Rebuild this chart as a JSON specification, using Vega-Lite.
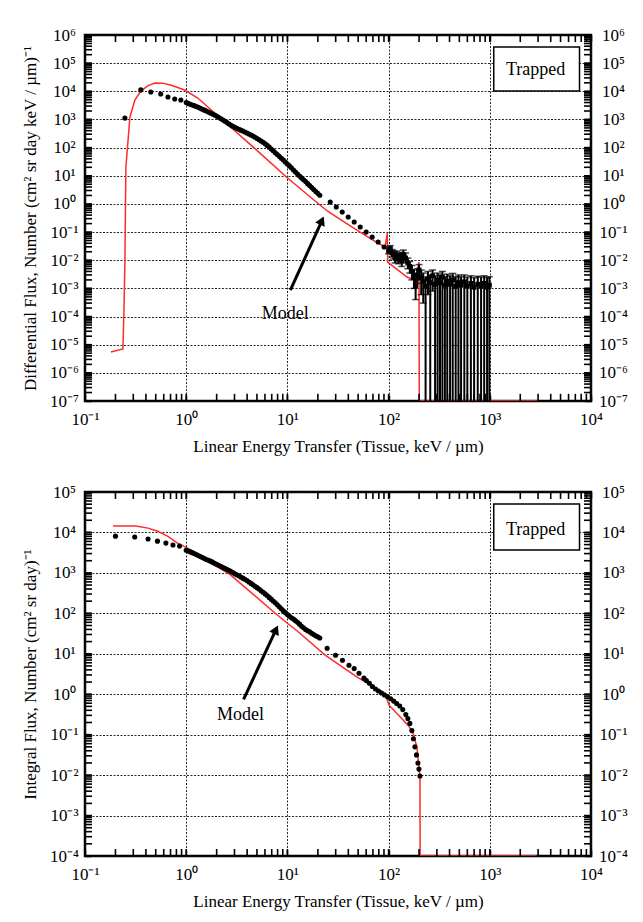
{
  "$schema": "https://vega.github.io/schema/vega-lite/v6.json",
  "background": "white",
  "padding": {"left": 20, "top": 24, "right": 5, "bottom": 5},
  "spacing": 25,
  "config": {
    "font": "Liberation Serif",
    "view": {"stroke": "black", "strokeWidth": 2.5},
    "axis": {
      "domain": false,
      "labelFont": "Liberation Serif",
      "titleFont": "Liberation Serif",
      "labelFontSize": 17,
      "titleFontSize": 17,
      "titleFontWeight": "normal",
      "labelColor": "black",
      "titleColor": "black",
      "tickColor": "black",
      "tickWidth": 1.5,
      "gridColor": "#111111",
      "gridDash": [2, 1.5],
      "gridWidth": 1,
      "labelFlush": false,
      "labelOverlap": false
    }
  },
  "datasets": {
    "xticks": [
      {"v": 0.2}, {"v": 0.3}, {"v": 0.4}, {"v": 0.5}, {"v": 0.6}, {"v": 0.7}, {"v": 0.8}, {"v": 0.9}, {"v": 1},
      {"v": 2}, {"v": 3}, {"v": 4}, {"v": 5}, {"v": 6}, {"v": 7}, {"v": 8}, {"v": 9}, {"v": 10},
      {"v": 20}, {"v": 30}, {"v": 40}, {"v": 50}, {"v": 60}, {"v": 70}, {"v": 80}, {"v": 90}, {"v": 100},
      {"v": 200}, {"v": 300}, {"v": 400}, {"v": 500}, {"v": 600}, {"v": 700}, {"v": 800}, {"v": 900}, {"v": 1000},
      {"v": 2000}, {"v": 3000}, {"v": 4000}, {"v": 5000}, {"v": 6000}, {"v": 7000}, {"v": 8000}, {"v": 9000}
    ],
    "yticksTop": [
      {"v": 2e-7}, {"v": 3e-7}, {"v": 4e-7}, {"v": 5e-7}, {"v": 6e-7}, {"v": 7e-7}, {"v": 8e-7}, {"v": 9e-7}, {"v": 1e-6},
      {"v": 2e-6}, {"v": 3e-6}, {"v": 4e-6}, {"v": 5e-6}, {"v": 6e-6}, {"v": 7e-6}, {"v": 8e-6}, {"v": 9e-6}, {"v": 1e-5},
      {"v": 2e-5}, {"v": 3e-5}, {"v": 4e-5}, {"v": 5e-5}, {"v": 6e-5}, {"v": 7e-5}, {"v": 8e-5}, {"v": 9e-5}, {"v": 1e-4},
      {"v": 2e-4}, {"v": 3e-4}, {"v": 4e-4}, {"v": 5e-4}, {"v": 6e-4}, {"v": 7e-4}, {"v": 8e-4}, {"v": 9e-4}, {"v": 0.001},
      {"v": 0.002}, {"v": 0.003}, {"v": 0.004}, {"v": 0.005}, {"v": 0.006}, {"v": 0.007}, {"v": 0.008}, {"v": 0.009}, {"v": 0.01},
      {"v": 0.02}, {"v": 0.03}, {"v": 0.04}, {"v": 0.05}, {"v": 0.06}, {"v": 0.07}, {"v": 0.08}, {"v": 0.09}, {"v": 0.1},
      {"v": 0.2}, {"v": 0.3}, {"v": 0.4}, {"v": 0.5}, {"v": 0.6}, {"v": 0.7}, {"v": 0.8}, {"v": 0.9}, {"v": 1},
      {"v": 2}, {"v": 3}, {"v": 4}, {"v": 5}, {"v": 6}, {"v": 7}, {"v": 8}, {"v": 9}, {"v": 10},
      {"v": 20}, {"v": 30}, {"v": 40}, {"v": 50}, {"v": 60}, {"v": 70}, {"v": 80}, {"v": 90}, {"v": 100},
      {"v": 200}, {"v": 300}, {"v": 400}, {"v": 500}, {"v": 600}, {"v": 700}, {"v": 800}, {"v": 900}, {"v": 1000},
      {"v": 2000}, {"v": 3000}, {"v": 4000}, {"v": 5000}, {"v": 6000}, {"v": 7000}, {"v": 8000}, {"v": 9000}, {"v": 10000},
      {"v": 20000}, {"v": 30000}, {"v": 40000}, {"v": 50000}, {"v": 60000}, {"v": 70000}, {"v": 80000}, {"v": 90000}, {"v": 100000},
      {"v": 200000}, {"v": 300000}, {"v": 400000}, {"v": 500000}, {"v": 600000}, {"v": 700000}, {"v": 800000}, {"v": 900000}
    ],
    "yticksBot": [
      {"v": 2e-4}, {"v": 3e-4}, {"v": 4e-4}, {"v": 5e-4}, {"v": 6e-4}, {"v": 7e-4}, {"v": 8e-4}, {"v": 9e-4}, {"v": 0.001},
      {"v": 0.002}, {"v": 0.003}, {"v": 0.004}, {"v": 0.005}, {"v": 0.006}, {"v": 0.007}, {"v": 0.008}, {"v": 0.009}, {"v": 0.01},
      {"v": 0.02}, {"v": 0.03}, {"v": 0.04}, {"v": 0.05}, {"v": 0.06}, {"v": 0.07}, {"v": 0.08}, {"v": 0.09}, {"v": 0.1},
      {"v": 0.2}, {"v": 0.3}, {"v": 0.4}, {"v": 0.5}, {"v": 0.6}, {"v": 0.7}, {"v": 0.8}, {"v": 0.9}, {"v": 1},
      {"v": 2}, {"v": 3}, {"v": 4}, {"v": 5}, {"v": 6}, {"v": 7}, {"v": 8}, {"v": 9}, {"v": 10},
      {"v": 20}, {"v": 30}, {"v": 40}, {"v": 50}, {"v": 60}, {"v": 70}, {"v": 80}, {"v": 90}, {"v": 100},
      {"v": 200}, {"v": 300}, {"v": 400}, {"v": 500}, {"v": 600}, {"v": 700}, {"v": 800}, {"v": 900}, {"v": 1000},
      {"v": 2000}, {"v": 3000}, {"v": 4000}, {"v": 5000}, {"v": 6000}, {"v": 7000}, {"v": 8000}, {"v": 9000}, {"v": 10000},
      {"v": 20000}, {"v": 30000}, {"v": 40000}, {"v": 50000}, {"v": 60000}, {"v": 70000}, {"v": 80000}, {"v": 90000}
    ],
    "diffModel": [
      {"i": 1, "x": 0.18, "y": 5.5e-6},
      {"i": 2, "x": 0.237, "y": 7.1e-6},
      {"i": 3, "x": 0.243, "y": 2e-4},
      {"i": 4, "x": 0.248, "y": 0.01},
      {"i": 5, "x": 0.2535, "y": 20},
      {"i": 6, "x": 0.278, "y": 1230},
      {"i": 7, "x": 0.311, "y": 4900},
      {"i": 8, "x": 0.356, "y": 10200},
      {"i": 9, "x": 0.42, "y": 16000},
      {"i": 10, "x": 0.49, "y": 19700},
      {"i": 11, "x": 0.58, "y": 19500},
      {"i": 12, "x": 0.7, "y": 16700},
      {"i": 13, "x": 0.966, "y": 11100},
      {"i": 14, "x": 1.3, "y": 5780},
      {"i": 15, "x": 2.74, "y": 540},
      {"i": 16, "x": 5.93, "y": 46},
      {"i": 17, "x": 9.78, "y": 9.0},
      {"i": 18, "x": 19.8, "y": 1.08},
      {"i": 19, "x": 25, "y": 0.55},
      {"i": 20, "x": 35, "y": 0.25},
      {"i": 21, "x": 50, "y": 0.11},
      {"i": 22, "x": 70, "y": 0.052},
      {"i": 23, "x": 92.4, "y": 0.0295},
      {"i": 24, "x": 97, "y": 0.0925},
      {"i": 25, "x": 98, "y": 0.0086},
      {"i": 26, "x": 152, "y": 0.00253},
      {"i": 27, "x": 178, "y": 0.002},
      {"i": 28, "x": 191, "y": 0.0035},
      {"i": 29, "x": 199.6, "y": 0.0086},
      {"i": 30, "x": 201, "y": 1e-7},
      {"i": 31, "x": 3040, "y": 1e-7}
    ],
    "diffData": [
      {"x": 0.248, "y": 1120},
      {"x": 0.356, "y": 11200},
      {"x": 0.447, "y": 9400},
      {"x": 0.56, "y": 8000},
      {"x": 0.66, "y": 6300},
      {"x": 0.77, "y": 5300},
      {"x": 0.885, "y": 4900},
      {"x": 1.0, "y": 3981},
      {"x": 1.047, "y": 3715},
      {"x": 1.096, "y": 3467},
      {"x": 1.148, "y": 3273},
      {"x": 1.202, "y": 3090},
      {"x": 1.259, "y": 2884},
      {"x": 1.318, "y": 2692},
      {"x": 1.38, "y": 2483},
      {"x": 1.445, "y": 2291},
      {"x": 1.514, "y": 2138},
      {"x": 1.585, "y": 1995},
      {"x": 1.66, "y": 1841},
      {"x": 1.738, "y": 1698},
      {"x": 1.82, "y": 1567},
      {"x": 1.905, "y": 1445},
      {"x": 1.995, "y": 1318},
      {"x": 2.089, "y": 1202},
      {"x": 2.188, "y": 1084},
      {"x": 2.291, "y": 977},
      {"x": 2.399, "y": 881},
      {"x": 2.512, "y": 794},
      {"x": 2.63, "y": 708},
      {"x": 2.754, "y": 631},
      {"x": 2.884, "y": 575},
      {"x": 3.02, "y": 525},
      {"x": 3.162, "y": 484},
      {"x": 3.311, "y": 447},
      {"x": 3.467, "y": 417},
      {"x": 3.631, "y": 389},
      {"x": 3.802, "y": 359},
      {"x": 3.981, "y": 331},
      {"x": 4.169, "y": 305},
      {"x": 4.365, "y": 282},
      {"x": 4.571, "y": 257},
      {"x": 4.786, "y": 234},
      {"x": 5.012, "y": 211},
      {"x": 5.248, "y": 191},
      {"x": 5.495, "y": 172},
      {"x": 5.754, "y": 155},
      {"x": 6.026, "y": 136},
      {"x": 6.31, "y": 120},
      {"x": 6.607, "y": 104},
      {"x": 6.918, "y": 89},
      {"x": 7.244, "y": 77},
      {"x": 7.586, "y": 66},
      {"x": 7.943, "y": 57},
      {"x": 8.318, "y": 49},
      {"x": 8.71, "y": 42},
      {"x": 9.12, "y": 36},
      {"x": 9.55, "y": 31},
      {"x": 10.0, "y": 26.3},
      {"x": 10.47, "y": 22.4},
      {"x": 10.96, "y": 19.1},
      {"x": 11.48, "y": 16.0},
      {"x": 12.02, "y": 13.5},
      {"x": 12.59, "y": 11.5},
      {"x": 13.18, "y": 9.8},
      {"x": 13.8, "y": 8.4},
      {"x": 14.45, "y": 7.2},
      {"x": 15.14, "y": 6.2},
      {"x": 15.85, "y": 5.25},
      {"x": 16.6, "y": 4.47},
      {"x": 17.38, "y": 3.8},
      {"x": 18.2, "y": 3.24},
      {"x": 19.05, "y": 2.75},
      {"x": 19.95, "y": 2.37},
      {"x": 20.89, "y": 2.04},
      {"x": 26.5, "y": 1.17},
      {"x": 30.4, "y": 0.776},
      {"x": 34.8, "y": 0.515},
      {"x": 39.9, "y": 0.343},
      {"x": 45.7, "y": 0.228},
      {"x": 52.4, "y": 0.151},
      {"x": 60.0, "y": 0.1},
      {"x": 68.8, "y": 0.0667},
      {"x": 78.8, "y": 0.0443},
      {"x": 90.3, "y": 0.0294}
    ],
    "diffErr": [
      {"x": 100, "y": 0.022, "lo": 0.017, "hi": 0.028},
      {"x": 104, "y": 0.026, "lo": 0.02, "hi": 0.033},
      {"x": 108, "y": 0.018, "lo": 0.013, "hi": 0.024},
      {"x": 112, "y": 0.016, "lo": 0.011, "hi": 0.022},
      {"x": 116, "y": 0.012, "lo": 0.008, "hi": 0.017},
      {"x": 120, "y": 0.015, "lo": 0.01, "hi": 0.021},
      {"x": 125, "y": 0.011, "lo": 0.0075, "hi": 0.016},
      {"x": 130, "y": 0.013, "lo": 0.009, "hi": 0.019},
      {"x": 135, "y": 0.0095, "lo": 0.006, "hi": 0.014},
      {"x": 140, "y": 0.016, "lo": 0.011, "hi": 0.023},
      {"x": 147, "y": 0.012, "lo": 0.008, "hi": 0.018},
      {"x": 155, "y": 0.008, "lo": 0.005, "hi": 0.012},
      {"x": 162, "y": 0.006, "lo": 0.0035, "hi": 0.009},
      {"x": 170, "y": 0.004, "lo": 0.002, "hi": 0.0065},
      {"x": 178, "y": 0.0025, "lo": 0.001, "hi": 0.0045},
      {"x": 185, "y": 0.0012, "lo": 0.0004, "hi": 0.0025},
      {"x": 192, "y": 0.003, "lo": 0.0015, "hi": 0.005},
      {"x": 200, "y": 0.0045, "lo": 0.002, "hi": 0.007},
      {"x": 210, "y": 0.0025, "lo": 0.0006, "hi": 0.0045},
      {"x": 220, "y": 0.0018, "lo": 0.0003, "hi": 0.0035},
      {"x": 232, "y": 0.0012, "lo": 1e-9, "hi": 0.0025},
      {"x": 245, "y": 0.0022, "lo": 0.0006, "hi": 0.004},
      {"x": 258, "y": 0.0016, "lo": 1e-9, "hi": 0.003},
      {"x": 272, "y": 0.0028, "lo": 0.0008, "hi": 0.0045},
      {"x": 288, "y": 0.0014, "lo": 1e-9, "hi": 0.0028},
      {"x": 305, "y": 0.002, "lo": 1e-9, "hi": 0.0035},
      {"x": 322, "y": 0.0016, "lo": 1e-9, "hi": 0.003},
      {"x": 340, "y": 0.0025, "lo": 1e-9, "hi": 0.004},
      {"x": 360, "y": 0.0013, "lo": 1e-9, "hi": 0.0026},
      {"x": 380, "y": 0.0018, "lo": 1e-9, "hi": 0.0032},
      {"x": 405, "y": 0.0014, "lo": 1e-9, "hi": 0.0028},
      {"x": 430, "y": 0.002, "lo": 1e-9, "hi": 0.0034},
      {"x": 460, "y": 0.0012, "lo": 1e-9, "hi": 0.0026},
      {"x": 490, "y": 0.0016, "lo": 1e-9, "hi": 0.003},
      {"x": 520, "y": 0.0013, "lo": 1e-9, "hi": 0.0026},
      {"x": 560, "y": 0.0017, "lo": 1e-9, "hi": 0.003},
      {"x": 600, "y": 0.0012, "lo": 1e-9, "hi": 0.0025},
      {"x": 650, "y": 0.0015, "lo": 1e-9, "hi": 0.0028},
      {"x": 700, "y": 0.0011, "lo": 1e-9, "hi": 0.0024},
      {"x": 760, "y": 0.0014, "lo": 1e-9, "hi": 0.0027},
      {"x": 820, "y": 0.0012, "lo": 1e-9, "hi": 0.0025},
      {"x": 880, "y": 0.0015, "lo": 1e-9, "hi": 0.0028},
      {"x": 940, "y": 0.0011, "lo": 1e-9, "hi": 0.0024},
      {"x": 990, "y": 0.0013, "lo": 1e-9, "hi": 0.0026}
    ],
    "intModel": [
      {"i": 1, "x": 0.189, "y": 14500},
      {"i": 2, "x": 0.318, "y": 14500},
      {"i": 3, "x": 0.42, "y": 12800},
      {"i": 4, "x": 0.524, "y": 10700},
      {"i": 5, "x": 0.66, "y": 8000},
      {"i": 6, "x": 0.82, "y": 5460},
      {"i": 7, "x": 1.03, "y": 4100},
      {"i": 8, "x": 2.74, "y": 890},
      {"i": 9, "x": 7.95, "y": 91},
      {"i": 10, "x": 10, "y": 57},
      {"i": 11, "x": 12.6, "y": 36},
      {"i": 12, "x": 23.6, "y": 9.3},
      {"i": 13, "x": 48.9, "y": 2.64},
      {"i": 14, "x": 68.8, "y": 1.58},
      {"i": 15, "x": 92.4, "y": 1.06},
      {"i": 16, "x": 101, "y": 0.535},
      {"i": 17, "x": 159, "y": 0.161},
      {"i": 18, "x": 178, "y": 0.097},
      {"i": 19, "x": 191, "y": 0.046},
      {"i": 20, "x": 200, "y": 0.015},
      {"i": 21, "x": 204, "y": 0.0083},
      {"i": 22, "x": 205, "y": 1e-4},
      {"i": 23, "x": 2900, "y": 1e-4}
    ],
    "intData": [
      {"x": 0.2, "y": 8100},
      {"x": 0.31, "y": 7700},
      {"x": 0.42, "y": 6900},
      {"x": 0.52, "y": 6100},
      {"x": 0.63, "y": 5450},
      {"x": 0.74, "y": 4900},
      {"x": 0.86, "y": 4600},
      {"x": 1.0, "y": 3631},
      {"x": 1.047, "y": 3467},
      {"x": 1.096, "y": 3311},
      {"x": 1.148, "y": 3162},
      {"x": 1.202, "y": 3020},
      {"x": 1.259, "y": 2851},
      {"x": 1.318, "y": 2692},
      {"x": 1.38, "y": 2541},
      {"x": 1.445, "y": 2399},
      {"x": 1.514, "y": 2265},
      {"x": 1.585, "y": 2138},
      {"x": 1.66, "y": 2042},
      {"x": 1.738, "y": 1950},
      {"x": 1.82, "y": 1841},
      {"x": 1.905, "y": 1738},
      {"x": 1.995, "y": 1641},
      {"x": 2.089, "y": 1549},
      {"x": 2.188, "y": 1462},
      {"x": 2.291, "y": 1380},
      {"x": 2.399, "y": 1303},
      {"x": 2.512, "y": 1230},
      {"x": 2.63, "y": 1161},
      {"x": 2.754, "y": 1096},
      {"x": 2.884, "y": 1023},
      {"x": 3.02, "y": 955},
      {"x": 3.162, "y": 902},
      {"x": 3.311, "y": 851},
      {"x": 3.467, "y": 794},
      {"x": 3.631, "y": 741},
      {"x": 3.802, "y": 692},
      {"x": 3.981, "y": 646},
      {"x": 4.169, "y": 596},
      {"x": 4.365, "y": 550},
      {"x": 4.571, "y": 507},
      {"x": 4.786, "y": 468},
      {"x": 5.012, "y": 432},
      {"x": 5.248, "y": 398},
      {"x": 5.495, "y": 363},
      {"x": 5.754, "y": 331},
      {"x": 6.026, "y": 302},
      {"x": 6.31, "y": 275},
      {"x": 6.607, "y": 248},
      {"x": 6.918, "y": 224},
      {"x": 7.244, "y": 202},
      {"x": 7.586, "y": 182},
      {"x": 7.943, "y": 162},
      {"x": 8.318, "y": 145},
      {"x": 8.71, "y": 129},
      {"x": 9.12, "y": 115},
      {"x": 9.55, "y": 104},
      {"x": 10.0, "y": 93},
      {"x": 10.47, "y": 85},
      {"x": 10.96, "y": 78},
      {"x": 11.48, "y": 72},
      {"x": 12.02, "y": 66},
      {"x": 12.59, "y": 60},
      {"x": 13.18, "y": 54},
      {"x": 13.8, "y": 48},
      {"x": 14.45, "y": 44},
      {"x": 15.14, "y": 40},
      {"x": 15.85, "y": 37},
      {"x": 16.6, "y": 35},
      {"x": 17.38, "y": 32},
      {"x": 18.2, "y": 30},
      {"x": 19.05, "y": 28},
      {"x": 19.95, "y": 26.3},
      {"x": 20.89, "y": 24.5},
      {"x": 24.7, "y": 13.7},
      {"x": 29.9, "y": 9.2},
      {"x": 35, "y": 6.9},
      {"x": 40.6, "y": 5.2},
      {"x": 45.7, "y": 4.3},
      {"x": 51, "y": 3.3},
      {"x": 57, "y": 2.5},
      {"x": 60.3, "y": 2.19},
      {"x": 64.6, "y": 1.86},
      {"x": 69.2, "y": 1.55},
      {"x": 74.1, "y": 1.35},
      {"x": 79.4, "y": 1.2},
      {"x": 85.1, "y": 1.07},
      {"x": 91.2, "y": 0.955},
      {"x": 97.7, "y": 0.871},
      {"x": 104.7, "y": 0.776},
      {"x": 112.2, "y": 0.676},
      {"x": 120.2, "y": 0.589},
      {"x": 128.8, "y": 0.513},
      {"x": 138.0, "y": 0.417},
      {"x": 147.9, "y": 0.316},
      {"x": 154.9, "y": 0.251},
      {"x": 162.2, "y": 0.19},
      {"x": 169.8, "y": 0.126},
      {"x": 175.8, "y": 0.079},
      {"x": 182, "y": 0.05},
      {"x": 188.4, "y": 0.0316},
      {"x": 195, "y": 0.02},
      {"x": 199.5, "y": 0.0141},
      {"x": 204, "y": 0.0095}
    ]
  },
  "vconcat": [
    {
      "width": 506,
      "height": 366,
      "resolve": {"axis": {"x": "independent", "y": "independent"}},
      "layer": [
        {
          "data": {"name": "diffModel"},
          "mark": {"type": "line", "color": "#ff2b2b", "strokeWidth": 1.5, "clip": true},
          "encoding": {
            "x": {"field": "x", "type": "quantitative",
              "scale": {"type": "log", "domain": [0.1, 10000], "nice": false},
              "axis": {"orient": "bottom", "values": [0.1, 1, 10, 100, 1000, 10000], "grid": true, "gridOpacity": 0.9,
                "tickSize": -6, "labelPadding": 16,
                "labelExpr": "'10' + (round(log(datum.value)/LN10) < 0 ? '⁻' : '') + ['⁰','¹','²','³','⁴','⁵','⁶','⁷','⁸','⁹'][abs(round(log(datum.value)/LN10))]",
                "title": "Linear Energy Transfer (Tissue, keV / µm)", "titlePadding": 11}},
            "y": {"field": "y", "type": "quantitative",
              "scale": {"type": "log", "domain": [1e-7, 1000000], "nice": false},
              "axis": {"orient": "left", "values": [1e-7, 1e-6, 1e-5, 1e-4, 1e-3, 0.01, 0.1, 1, 10, 100, 1000, 10000, 100000, 1000000], "grid": true, "gridOpacity": 0.9,
                "tickSize": -6, "labelPadding": 27, "labelAlign": "center", "labelBaseline": "middle",
                "labelExpr": "'10' + (round(log(datum.value)/LN10) < 0 ? '⁻' : '') + ['⁰','¹','²','³','⁴','⁵','⁶','⁷','⁸','⁹'][abs(round(log(datum.value)/LN10))]",
                "title": "Differential Flux, Number (cm² sr day keV / µm)⁻¹", "titlePadding": 10}},
            "order": {"field": "i", "type": "quantitative"}
          }
        },
        {
          "data": {"name": "diffErr"},
          "mark": {"type": "rule", "color": "black", "strokeWidth": 2, "clip": true},
          "encoding": {
            "x": {"field": "x", "type": "quantitative", "scale": {"type": "log", "domain": [0.1, 10000], "nice": false},
              "axis": {"orient": "top", "values": [0.1, 1, 10, 100, 1000, 10000], "grid": false, "labels": false, "tickSize": -6, "title": null}},
            "y": {"field": "lo", "type": "quantitative", "scale": {"type": "log", "domain": [1e-7, 1000000], "nice": false},
              "axis": {"orient": "right", "values": [1e-7, 1e-6, 1e-5, 1e-4, 1e-3, 0.01, 0.1, 1, 10, 100, 1000, 10000, 100000, 1000000],
                "grid": false, "tickSize": -6, "labelPadding": 28, "labelAlign": "center", "labelBaseline": "middle",
                "labelExpr": "'10' + (round(log(datum.value)/LN10) < 0 ? '⁻' : '') + ['⁰','¹','²','³','⁴','⁵','⁶','⁷','⁸','⁹'][abs(round(log(datum.value)/LN10))]",
                "title": null}},
            "y2": {"field": "hi"}
          }
        },
        {
          "data": {"name": "xticks"},
          "mark": {"type": "rule", "color": "black", "strokeWidth": 1.6},
          "encoding": {
            "x": {"field": "v", "type": "quantitative", "axis": null},
            "y": {"datum": 1e-7, "type": "quantitative", "axis": null},
            "y2": {"datum": 1.8e-7}
          }
        },
        {
          "data": {"name": "xticks"},
          "mark": {"type": "rule", "color": "black", "strokeWidth": 1.6},
          "encoding": {
            "x": {"field": "v", "type": "quantitative", "axis": null},
            "y": {"datum": 1000000, "type": "quantitative", "axis": null},
            "y2": {"datum": 560000}
          }
        },
        {
          "data": {"name": "yticksTop"},
          "mark": {"type": "rule", "color": "black", "strokeWidth": 1.6},
          "encoding": {
            "y": {"field": "v", "type": "quantitative", "axis": null},
            "x": {"datum": 0.1, "type": "quantitative", "axis": null},
            "x2": {"datum": 0.1172}
          }
        },
        {
          "data": {"name": "yticksTop"},
          "mark": {"type": "rule", "color": "black", "strokeWidth": 1.6},
          "encoding": {
            "y": {"field": "v", "type": "quantitative", "axis": null},
            "x": {"datum": 10000, "type": "quantitative", "axis": null},
            "x2": {"datum": 8530}
          }
        },
        {
          "data": {"name": "diffData"},
          "mark": {"type": "point", "filled": true, "color": "black", "size": 26, "opacity": 1, "clip": true},
          "encoding": {
            "x": {"field": "x", "type": "quantitative", "axis": null},
            "y": {"field": "y", "type": "quantitative", "axis": null}
          }
        },
        {
          "data": {"name": "diffErr"},
          "mark": {"type": "tick", "orient": "horizontal", "color": "black", "size": 7, "thickness": 1.5, "clip": true},
          "encoding": {
            "x": {"field": "x", "type": "quantitative", "axis": null},
            "y": {"field": "hi", "type": "quantitative", "axis": null}
          }
        },
        {
          "data": {"name": "diffErr"},
          "transform": [{"filter": "datum.lo > 1e-7"}],
          "mark": {"type": "tick", "orient": "horizontal", "color": "black", "size": 7, "thickness": 1.5, "clip": true},
          "encoding": {
            "x": {"field": "x", "type": "quantitative", "axis": null},
            "y": {"field": "lo", "type": "quantitative", "axis": null}
          }
        },
        {
          "data": {"name": "diffErr"},
          "mark": {"type": "point", "shape": "square", "filled": true, "color": "black", "size": 24, "opacity": 1, "clip": true},
          "encoding": {
            "x": {"field": "x", "type": "quantitative", "axis": null},
            "y": {"field": "y", "type": "quantitative", "axis": null}
          }
        },
        {
          "data": {"values": [{}]},
          "mark": {"type": "rect", "fill": "white", "stroke": "black", "strokeWidth": 1.5},
          "encoding": {
            "x": {"datum": 1094, "type": "quantitative", "axis": null},
            "x2": {"datum": 7700},
            "y": {"datum": 375000, "type": "quantitative", "axis": null},
            "y2": {"datum": 10200}
          }
        },
        {
          "data": {"values": [{}]},
          "mark": {"type": "text", "text": "Trapped", "fontSize": 18, "color": "black", "align": "center", "baseline": "middle"},
          "encoding": {
            "x": {"datum": 2840, "type": "quantitative", "axis": null},
            "y": {"datum": 57000, "type": "quantitative", "axis": null}
          }
        },
        {
          "data": {"values": [{}]},
          "mark": {"type": "text", "text": "Model", "fontSize": 18, "color": "black", "align": "center", "baseline": "middle"},
          "encoding": {
            "x": {"datum": 9.5, "type": "quantitative", "axis": null},
            "y": {"datum": 0.00012, "type": "quantitative", "axis": null}
          }
        },
        {
          "data": {"values": [{}]},
          "mark": {"type": "rule", "color": "black", "strokeWidth": 3},
          "encoding": {
            "x": {"datum": 10.7, "type": "quantitative", "axis": null},
            "y": {"datum": 0.00087, "type": "quantitative", "axis": null},
            "x2": {"datum": 21.9},
            "y2": {"datum": 0.25}
          }
        },
        {
          "data": {"values": [{}]},
          "mark": {"type": "point", "shape": "triangle-up", "filled": true, "color": "black", "opacity": 1, "size": 110, "angle": 25},
          "encoding": {
            "x": {"datum": 21.9, "type": "quantitative", "axis": null},
            "y": {"datum": 0.257, "type": "quantitative", "axis": null}
          }
        }
      ]
    },
    {
      "width": 506,
      "height": 364,
      "resolve": {"axis": {"x": "independent", "y": "independent"}},
      "layer": [
        {
          "data": {"name": "intModel"},
          "mark": {"type": "line", "color": "#ff2b2b", "strokeWidth": 1.5, "clip": true},
          "encoding": {
            "x": {"field": "x", "type": "quantitative",
              "scale": {"type": "log", "domain": [0.1, 10000], "nice": false},
              "axis": {"orient": "bottom", "values": [0.1, 1, 10, 100, 1000, 10000], "grid": true, "gridOpacity": 0.9,
                "tickSize": -6, "labelPadding": 16,
                "labelExpr": "'10' + (round(log(datum.value)/LN10) < 0 ? '⁻' : '') + ['⁰','¹','²','³','⁴','⁵','⁶','⁷','⁸','⁹'][abs(round(log(datum.value)/LN10))]",
                "title": "Linear Energy Transfer (Tissue, keV / µm)", "titlePadding": 11}},
            "y": {"field": "y", "type": "quantitative",
              "scale": {"type": "log", "domain": [1e-4, 100000], "nice": false},
              "axis": {"orient": "left", "values": [1e-4, 1e-3, 0.01, 0.1, 1, 10, 100, 1000, 10000, 100000], "grid": true, "gridOpacity": 0.9,
                "tickSize": -6, "labelPadding": 27, "labelAlign": "center", "labelBaseline": "middle",
                "labelExpr": "'10' + (round(log(datum.value)/LN10) < 0 ? '⁻' : '') + ['⁰','¹','²','³','⁴','⁵','⁶','⁷','⁸','⁹'][abs(round(log(datum.value)/LN10))]",
                "title": "Integral Flux, Number (cm² sr day)⁻¹", "titlePadding": 10}},
            "order": {"field": "i", "type": "quantitative"}
          }
        },
        {
          "data": {"values": [{}]},
          "mark": {"type": "rect", "fill": "white", "stroke": "black", "strokeWidth": 1.5},
          "encoding": {
            "x": {"datum": 1094, "type": "quantitative", "scale": {"type": "log", "domain": [0.1, 10000], "nice": false},
              "axis": {"orient": "top", "values": [0.1, 1, 10, 100, 1000, 10000], "grid": false, "labels": false, "tickSize": -6, "title": null}},
            "x2": {"datum": 7700},
            "y": {"datum": 50500, "type": "quantitative", "scale": {"type": "log", "domain": [1e-4, 100000], "nice": false},
              "axis": {"orient": "right", "values": [1e-4, 1e-3, 0.01, 0.1, 1, 10, 100, 1000, 10000, 100000],
                "grid": false, "tickSize": -6, "labelPadding": 28, "labelAlign": "center", "labelBaseline": "middle",
                "labelExpr": "'10' + (round(log(datum.value)/LN10) < 0 ? '⁻' : '') + ['⁰','¹','²','³','⁴','⁵','⁶','⁷','⁸','⁹'][abs(round(log(datum.value)/LN10))]",
                "title": null}},
            "y2": {"datum": 3660}
          }
        },
        {
          "data": {"name": "xticks"},
          "mark": {"type": "rule", "color": "black", "strokeWidth": 1.6},
          "encoding": {
            "x": {"field": "v", "type": "quantitative", "axis": null},
            "y": {"datum": 1e-4, "type": "quantitative", "axis": null},
            "y2": {"datum": 1.49e-4}
          }
        },
        {
          "data": {"name": "xticks"},
          "mark": {"type": "rule", "color": "black", "strokeWidth": 1.6},
          "encoding": {
            "x": {"field": "v", "type": "quantitative", "axis": null},
            "y": {"datum": 100000, "type": "quantitative", "axis": null},
            "y2": {"datum": 67100}
          }
        },
        {
          "data": {"name": "yticksBot"},
          "mark": {"type": "rule", "color": "black", "strokeWidth": 1.6},
          "encoding": {
            "y": {"field": "v", "type": "quantitative", "axis": null},
            "x": {"datum": 0.1, "type": "quantitative", "axis": null},
            "x2": {"datum": 0.1172}
          }
        },
        {
          "data": {"name": "yticksBot"},
          "mark": {"type": "rule", "color": "black", "strokeWidth": 1.6},
          "encoding": {
            "y": {"field": "v", "type": "quantitative", "axis": null},
            "x": {"datum": 10000, "type": "quantitative", "axis": null},
            "x2": {"datum": 8530}
          }
        },
        {
          "data": {"name": "intData"},
          "mark": {"type": "point", "filled": true, "color": "black", "size": 26, "opacity": 1, "clip": true},
          "encoding": {
            "x": {"field": "x", "type": "quantitative", "axis": null},
            "y": {"field": "y", "type": "quantitative", "axis": null}
          }
        },
        {
          "data": {"values": [{}]},
          "mark": {"type": "text", "text": "Trapped", "fontSize": 18, "color": "black", "align": "center", "baseline": "middle"},
          "encoding": {
            "x": {"datum": 2840, "type": "quantitative", "axis": null},
            "y": {"datum": 11500, "type": "quantitative", "axis": null}
          }
        },
        {
          "data": {"values": [{}]},
          "mark": {"type": "text", "text": "Model", "fontSize": 18, "color": "black", "align": "center", "baseline": "middle"},
          "encoding": {
            "x": {"datum": 3.44, "type": "quantitative", "axis": null},
            "y": {"datum": 0.3, "type": "quantitative", "axis": null}
          }
        },
        {
          "data": {"values": [{}]},
          "mark": {"type": "rule", "color": "black", "strokeWidth": 3},
          "encoding": {
            "x": {"datum": 3.69, "type": "quantitative", "axis": null},
            "y": {"datum": 0.75, "type": "quantitative", "axis": null},
            "x2": {"datum": 7.71},
            "y2": {"datum": 39.5}
          }
        },
        {
          "data": {"values": [{}]},
          "mark": {"type": "point", "shape": "triangle-up", "filled": true, "color": "black", "opacity": 1, "size": 110, "angle": 25},
          "encoding": {
            "x": {"datum": 7.71, "type": "quantitative", "axis": null},
            "y": {"datum": 39.5, "type": "quantitative", "axis": null}
          }
        }
      ]
    }
  ]
}
